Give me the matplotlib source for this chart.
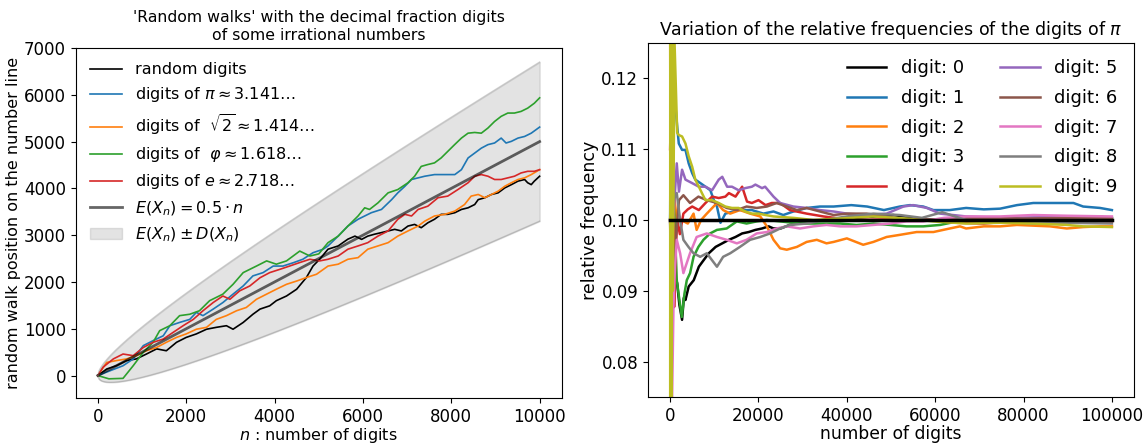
import numpy as np
import matplotlib
matplotlib.use("Agg")
import matplotlib.pyplot as plt

# ---------------- left panel: random walks ----------------
walk_random_n = [0, 200, 420, 650, 870, 1100, 1330, 1550, 1780, 2000, 2230, 2460, 2680, 2910, 3060,
                 3290, 3510, 3670, 3890, 4040, 4270, 4500, 4720, 4870, 5020, 5210, 5440, 5660, 5820,
                 5970, 6110, 6260, 6420, 6570, 6720, 6870, 7020, 7170, 7320, 7470, 7620, 7770, 7920,
                 8080, 8230, 8380, 8530, 8610, 8760, 8910, 9060, 9210, 9360, 9510, 9660, 9730, 9810,
                 9880, 10000]
walk_random_v = [0, 140, 210, 320, 355, 460, 570, 530, 710, 815, 890, 990, 1030, 1065, 990,
                 1135, 1310, 1420, 1490, 1600, 1700, 1845, 2095, 2340, 2485, 2700, 2770, 2915, 2980,
                 2910, 2980, 3020, 3055, 3090, 3125, 3090, 3195, 3230, 3160, 3265, 3340, 3445, 3445,
                 3480, 3550, 3585, 3655, 3760, 3800, 3870, 3905, 4010, 4080, 4155, 4190, 4120, 4080,
                 4155, 4260]

walk_pi_n = [0, 270, 570, 800, 1030, 1250, 1480, 1630, 1850, 2080, 2230, 2380, 2610, 2830, 3060,
             3290, 3510, 3740, 3970, 4190, 4420, 4640, 4870, 5100, 5210, 5440, 5660, 5890, 6040,
             6190, 6420, 6650, 6790, 6950, 7100, 7250, 7400, 7620, 7850, 8080, 8230, 8380, 8530,
             8680, 8830, 8980, 9130, 9240, 9360, 9510, 9660, 9810, 10000]
walk_pi_v = [0, 100, 210, 355, 640, 745, 850, 1065, 1135, 1200, 1350, 1280, 1420, 1560, 1740,
             1915, 2130, 2200, 2340, 2340, 2410, 2485, 2625, 2700, 2770, 2980, 3195, 3340, 3410,
             3480, 3550, 3760, 3905, 4045, 4190, 4225, 4260, 4295, 4295, 4295, 4400, 4650, 4755,
             4860, 4935, 4970, 5075, 4970, 5005, 5075, 5110, 5180, 5310]

walk_sqrt2_n = [0, 200, 420, 650, 870, 1100, 1330, 1550, 1780, 2000, 2230, 2460, 2680, 2910, 3140,
                3360, 3590, 3820, 4040, 4270, 4500, 4720, 4950, 5210, 5440, 5660, 5890, 6110, 6340,
                6570, 6790, 7020, 7250, 7400, 7620, 7850, 8080, 8300, 8450, 8610, 8760, 8910, 9060,
                9210, 9360, 9510, 9660, 9810, 10000]
walk_sqrt2_v = [0, 280, 320, 355, 425, 530, 600, 710, 815, 890, 990, 1030, 1200, 1280, 1385,
                1455, 1630, 1740, 1845, 1950, 2020, 2095, 2165, 2340, 2380, 2485, 2520, 2700, 2770,
                2840, 2980, 3090, 3195, 3300, 3410, 3445, 3515, 3655, 3835, 3870, 3800, 3870, 3940,
                4045, 4120, 4190, 4225, 4295, 4400]

walk_phi_n = [0, 250, 570, 800, 1030, 1250, 1400, 1630, 1850, 2080, 2300, 2530, 2830, 3060, 3290,
              3590, 3820, 4040, 4270, 4570, 4800, 5000, 5210, 5440, 5660, 5890, 6040, 6150, 6340,
              6570, 6790, 7020, 7170, 7320, 7470, 7620, 7770, 7920, 8070, 8230, 8380, 8530, 8680,
              8830, 8980, 9130, 9280, 9430, 9580, 9730, 9880, 10000]
walk_phi_v = [0, -70, -60, 210, 500, 710, 960, 1065, 1280, 1310, 1385, 1600, 1740, 1950, 2200,
              2340, 2450, 2380, 2450, 2660, 2555, 2600, 2840, 2980, 3195, 3410, 3585, 3550, 3690,
              3905, 3975, 4120, 4260, 4470, 4510, 4545, 4650, 4790, 4930, 5075, 5180, 5195, 5180,
              5290, 5430, 5540, 5610, 5610, 5645, 5715, 5820, 5935]

walk_e_n = [0, 120, 350, 570, 800, 1030, 1250, 1480, 1700, 1930, 2160, 2380, 2610, 2830, 2990,
            3210, 3440, 3670, 3890, 4120, 4340, 4570, 4800, 5020, 5210, 5440, 5660, 5890, 6110,
            6340, 6570, 6790, 6950, 7100, 7250, 7470, 7700, 7920, 8150, 8380, 8530, 8680, 8830,
            8980, 9130, 9280, 9430, 9580, 9730, 9880, 10000]
walk_e_v = [0, 180, 355, 460, 425, 600, 710, 780, 920, 1065, 1200, 1385, 1560, 1700, 1630,
            1810, 1915, 2090, 2200, 2270, 2340, 2415, 2485, 2450, 2485, 2555, 2700, 2770, 2840,
            2980, 3090, 3340, 3445, 3410, 3550, 3620, 3800, 3835, 3975, 4120, 4260, 4295, 4260,
            4190, 4190, 4225, 4260, 4330, 4365, 4365, 4400]

n_digits_walk = 10000
mean_step = 0.5          # E(X_n) = 0.5 * n
band_width = 17.0        # D(X_n) ~ band_width * sqrt(n)

# ---------------- right panel: relative digit frequencies of pi ----------------
freq_n = {
    0: [0, 300, 700, 1000, 1580, 2100, 2700, 3100, 3470, 4200, 5350, 6500, 7200, 8750, 10300, 11800,
        13300, 14800, 16300, 17800, 19300, 20800, 22300, 23400, 25000, 27100, 30900, 35000, 40000,
        46000, 50500, 54000, 57300, 62000, 70000, 80000, 90000, 100000],
    1: [0, 200, 450, 830, 1200, 1600, 1960, 2700, 3470, 4200, 5000, 5700, 6860, 8000, 9100, 9900,
        10600, 11400, 12500, 15500, 18500, 21100, 23400, 25600, 27900, 30900, 33900, 37000, 41000,
        44600, 48400, 52000, 54300, 57300, 59600, 63300, 67000, 71000, 74700, 78500, 82200, 86000,
        89800, 91300, 93500, 97300, 100000],
    2: [0, 150, 300, 600, 1000, 1500, 2500, 4000, 5300, 6000, 7000, 8300, 10600, 12000, 13600,
        15800, 18100, 20400, 21900, 23400, 24900, 26400, 28700, 30900, 33200, 35400, 37000, 40000,
        43700, 46000, 49000, 52000, 55800, 59600, 63300, 65600, 67000, 71000, 74700, 78500, 82200,
        86000, 89800, 93500, 97300, 100000],
    3: [0, 200, 500, 1000, 1500, 2100, 2640, 3240, 3770, 4520, 5300, 6400, 7540, 9050, 10600, 12800,
        15100, 17300, 19600, 21900, 24900, 29400, 33900, 38500, 42200, 46000, 49800, 53500, 57300,
        61100, 65000, 70000, 80000, 90000, 97300, 100000],
    4: [0, 300, 600, 900, 1200, 1600, 2200, 3000, 4000, 5000, 6500, 8000, 9500, 11000, 12500, 13300,
        14800, 16300, 17400, 18500, 20000, 21600, 23000, 24900, 27100, 30900, 34700, 38500, 42000,
        50000, 58000, 65000, 71000, 77000, 85000, 92000, 100000],
    5: [0, 300, 700, 1500, 2000, 2700, 3470, 5000, 6500, 8000, 9500, 11000, 11800, 12900, 14000,
        15500, 17000, 18500, 19300, 20800, 21500, 23400, 24900, 27900, 30900, 33900, 37000, 40000,
        44500, 49000, 52800, 55000, 58100, 61100, 67000, 75000, 85000, 95000, 100000],
    6: [0, 500, 1000, 2000, 3000, 4500, 6400, 8300, 10600, 12800, 15100, 17300, 19600, 21900, 24100,
        26400, 28700, 30900, 33900, 37000, 40000, 44500, 49000, 53500, 60000, 70000, 80000, 90000,
        100000],
    7: [0, 150, 380, 750, 1100, 1500, 2260, 3000, 4500, 6000, 8300, 10600, 12800, 15100, 17300,
        19600, 21900, 24100, 26400, 29400, 32400, 35400, 38500, 42200, 46000, 49800, 53500, 57300,
        62000, 67000, 74700, 82200, 89800, 100000],
    8: [0, 300, 750, 1500, 2260, 3000, 4150, 5300, 6800, 8300, 10600, 12000, 13600, 15800, 18100,
        20400, 22600, 24900, 27100, 30900, 35000, 40000, 46000, 52000, 57000, 61600, 64000, 67000,
        74700, 82200, 89800, 100000],
    9: [0, 30, 80, 150, 250, 400, 600, 1000, 1600, 1960, 2700, 3470, 4200, 5000, 5700, 6500, 7200,
        8000, 9500, 11000, 12500, 14000, 15500, 17000, 18500, 20000, 21600, 23400, 27900, 32400,
        38500, 46000, 53500, 59600, 67000, 74700, 82200, 89800, 93500, 100000],
}
freq_f = {
    0: [0.07, 0.085, 0.09, 0.092, 0.0911, 0.088, 0.0859, 0.0890, 0.0887, 0.0906, 0.0915, 0.0934,
        0.0940, 0.0953, 0.0962, 0.0967, 0.0972, 0.0976, 0.0981, 0.0983, 0.0986, 0.0988, 0.0991,
        0.0988, 0.0988, 0.0993, 0.0998, 0.1000, 0.1002, 0.1005, 0.1007, 0.1004, 0.1000, 0.1001,
        0.1000, 0.1000, 0.1000, 0.1000],
    1: [0.1, 0.125, 0.1189, 0.1163, 0.116, 0.1132, 0.1108, 0.1099, 0.1099, 0.108, 0.1066, 0.1057,
        0.1052, 0.1047, 0.1042, 0.1028, 0.1019, 0.0996, 0.1009, 0.1014, 0.1014, 0.1009, 0.1012,
        0.1007, 0.1012, 0.1017, 0.1019, 0.1019, 0.1021, 0.1019, 0.1014, 0.1019, 0.1021, 0.1019,
        0.1014, 0.1014, 0.1017, 0.1015, 0.1016, 0.1021, 0.1024, 0.1024, 0.1024, 0.1024, 0.1019,
        0.1017, 0.1014],
    2: [0.13, 0.08, 0.12, 0.105, 0.103, 0.1, 0.1, 0.0995, 0.1009, 0.0986, 0.1000, 0.1009, 0.1024,
        0.1014, 0.1009, 0.1014, 0.1009, 0.1005, 0.0991, 0.0972, 0.096, 0.0958, 0.0962, 0.0969,
        0.0972, 0.0967, 0.0969, 0.0974, 0.0965, 0.0969, 0.0976, 0.0979, 0.0983, 0.0983, 0.0988,
        0.0991, 0.0988, 0.0991, 0.0991, 0.0993, 0.0992, 0.0991, 0.0988, 0.0990, 0.0991, 0.0991],
    3: [0.1, 0.09, 0.105, 0.1, 0.0915, 0.0887, 0.0863, 0.0896, 0.0915, 0.0925, 0.0948, 0.0962,
        0.0972, 0.0981, 0.0986, 0.0988, 0.0998, 0.0995, 0.0998, 0.1, 0.0998, 0.0995, 0.0995,
        0.0995, 0.0993, 0.0995, 0.0993, 0.0991, 0.0991, 0.0993, 0.0998, 0.1, 0.1, 0.1002, 0.1005,
        0.1002],
    4: [0.11, 0.12, 0.117, 0.0877, 0.095, 0.1, 0.098, 0.1009, 0.1015, 0.1019, 0.1014, 0.1024,
        0.1033, 0.1031, 0.1033, 0.1038, 0.1033, 0.1047, 0.1026, 0.1024, 0.1028, 0.1021, 0.1024,
        0.1024, 0.1014, 0.1009, 0.1005, 0.1002, 0.1, 0.1001, 0.1, 0.0996, 0.0995, 0.0998, 0.0999,
        0.1, 0.0998],
    5: [0.1, 0.09, 0.1, 0.108, 0.104, 0.1071, 0.1057, 0.1052, 0.1047, 0.1047, 0.1042, 0.1057,
        0.1061, 0.1047, 0.1047, 0.1042, 0.1045, 0.1047, 0.105, 0.1045, 0.1047, 0.1033, 0.1024,
        0.1019, 0.1017, 0.1014, 0.1012, 0.1009, 0.1007, 0.1009, 0.1019, 0.1021, 0.1017, 0.1009,
        0.1005, 0.1003, 0.1004, 0.1003, 0.1002],
    6: [0.1, 0.09, 0.095, 0.1028, 0.1035, 0.1024, 0.1033, 0.1028, 0.1024, 0.1017, 0.1014, 0.1019,
        0.1017, 0.1019, 0.1024, 0.1019, 0.1014, 0.1017, 0.1012, 0.1007, 0.1009, 0.1009, 0.1005,
        0.1, 0.1001, 0.1003, 0.1002, 0.1003, 0.1003],
    7: [0.1, 0.09, 0.072, 0.0877, 0.0934, 0.0972, 0.0953, 0.0925, 0.0953, 0.0976, 0.0981, 0.0976,
        0.0972, 0.0967, 0.0972, 0.0981, 0.0983, 0.0988, 0.0991, 0.0988, 0.0991, 0.0993, 0.0991,
        0.0991, 0.0993, 0.0995, 0.0998, 0.0998, 0.1003, 0.1005, 0.1005, 0.1007, 0.1006, 0.1005],
    8: [0.1, 0.11, 0.1028, 0.1038, 0.1, 0.0972, 0.0962, 0.0953, 0.0948, 0.0953, 0.0934, 0.0948,
        0.0953, 0.0962, 0.0972, 0.0976, 0.0981, 0.0988, 0.0993, 0.0995, 0.1, 0.1005, 0.1009,
        0.1007, 0.1003, 0.1011, 0.1006, 0.1, 0.0998, 0.0995, 0.0996, 0.0995],
    9: [0.0, 0.2, 0.05, 0.15, 0.07, 0.14, 0.09, 0.125, 0.1123, 0.112, 0.1118, 0.1108, 0.109,
        0.1075, 0.1057, 0.1047, 0.1038, 0.1028, 0.1028, 0.1024, 0.1019, 0.1017, 0.1017, 0.1012,
        0.1009, 0.1009, 0.1007, 0.1005, 0.1003, 0.1, 0.1002, 0.1005, 0.1002, 0.0998, 0.0995,
        0.0996, 0.0995, 0.0993, 0.0991, 0.099],
}
n_digits_freq = 100000
expected_freq = 0.1

fig = plt.figure(figsize=(11.48, 4.45), dpi=100)
ax1 = fig.add_axes([0.066, 0.1056, 0.4233, 0.7865])
ax2 = fig.add_axes([0.5645, 0.1079, 0.4233, 0.7955])

# left panel
n = np.linspace(0, n_digits_walk, 400)
E = mean_step * n
D = band_width * np.sqrt(n)

ax1.plot(walk_random_n, walk_random_v, color="black", lw=1.2, label="random digits")
ax1.plot(walk_pi_n, walk_pi_v, color="tab:blue", lw=1.2, label=r"digits of $\pi \approx 3.141\ldots$")
ax1.plot(walk_sqrt2_n, walk_sqrt2_v, color="tab:orange", lw=1.2,
         label=r"digits of $\ \sqrt{2} \approx 1.414\ldots$")
ax1.plot(walk_phi_n, walk_phi_v, color="tab:green", lw=1.2,
         label=r"digits of $\ \varphi \approx 1.618\ldots$")
ax1.plot(walk_e_n, walk_e_v, color="tab:red", lw=1.2, label=r"digits of $e \approx 2.718\ldots$")
ax1.plot(n, E, color="black", alpha=0.6, lw=2, label=r"$E(X_n) = 0.5 \cdot n$")
ax1.fill_between(n, E - D, E + D, color="gray", alpha=0.22, label=r"$E(X_n) \pm D(X_n)$")
ax1.plot(n, E + D, color="gray", alpha=0.35, lw=1)
ax1.plot(n, E - D, color="gray", alpha=0.35, lw=1)

ax1.set_xlim(-500, 10500)
ax1.set_ylim(-480, 7000)
ax1.set_yticks(range(0, 7001, 1000))
ax1.set_xlabel(r"$n$ : number of digits", fontsize=11.5, labelpad=0)
ax1.set_ylabel("random walk position on the number line", fontsize=11.5, labelpad=2)
ax1.set_title("'Random walks' with the decimal fraction digits\nof some irrational numbers",
              fontsize=11.3)
ax1.tick_params(labelsize=12)
ax1.legend(loc="upper left", frameon=False, fontsize=11.5)

# right panel
colors = ["black", "tab:blue", "tab:orange", "tab:green", "tab:red",
          "tab:purple", "tab:brown", "tab:pink", "tab:gray", "tab:olive"]
for d in range(10):
    ax2.plot(freq_n[d], freq_f[d], color=colors[d], lw=1.8, label="digit: %d" % d)
ax2.plot([0, n_digits_freq], [expected_freq, expected_freq], color="black", lw=2.5)

ax2.set_xlim(-5000, 105000)
ax2.set_ylim(0.075, 0.125)
ax2.set_yticks([0.08, 0.09, 0.10, 0.11, 0.12])
ax2.set_yticklabels(["0.08", "0.09", "0.10", "0.11", "0.12"])
ax2.set_xlabel("number of digits", fontsize=12.3, labelpad=0)
ax2.set_ylabel("relative frequency", fontsize=12.5, labelpad=2)
ax2.set_title(r"Variation of the relative frequencies of the digits of $\pi$", fontsize=12.5)
ax2.tick_params(labelsize=12)
ax2.legend(loc="upper right", ncol=2, frameon=False, fontsize=13, labelspacing=0.65,
           handlelength=2.2, columnspacing=2.0)

fig.savefig("out.png", dpi=100)
